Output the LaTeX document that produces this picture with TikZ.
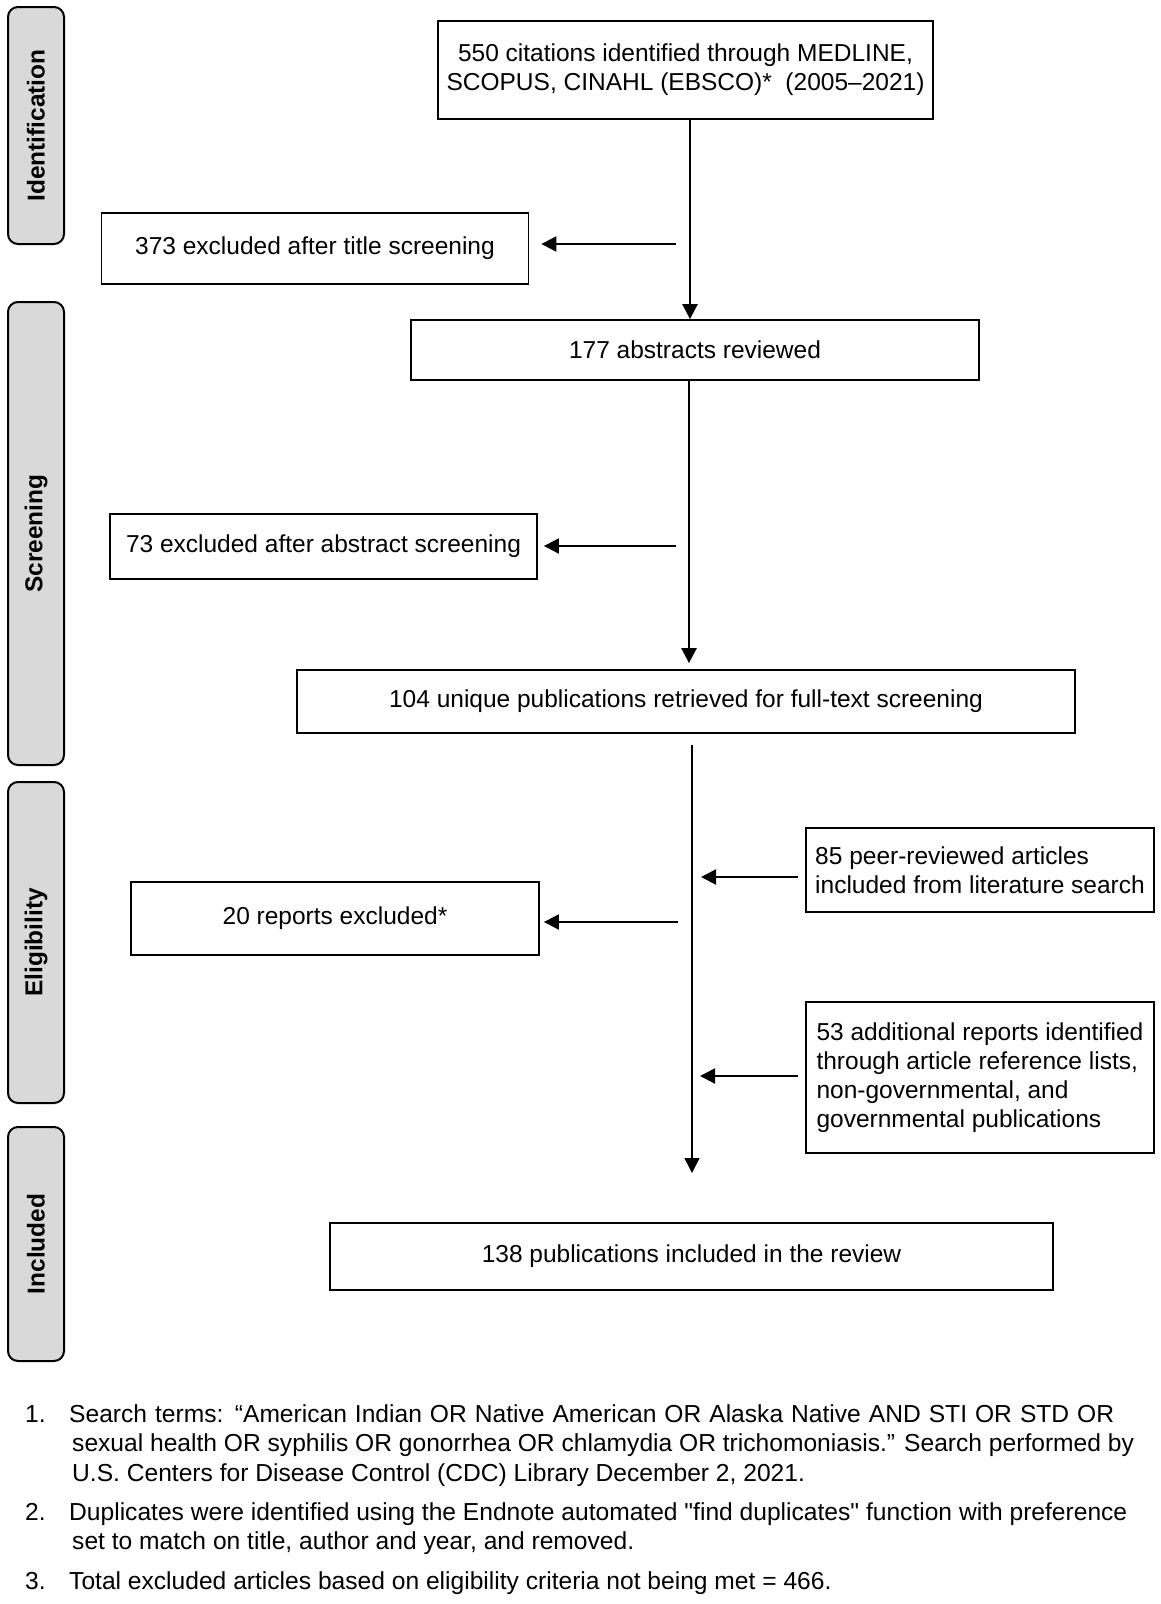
\documentclass[tikz,border=0pt]{standalone}
\usepackage{fontspec}
\setmainfont{Liberation Sans}[Ligatures=TeXOff]
\usetikzlibrary{arrows.meta}
\definecolor{sidegray}{HTML}{D9D9D9}
\begin{document}
\begin{tikzpicture}[x=1pt,y=-1pt,
  side/.style={draw=black, line width=2pt, fill=sidegray, rounded corners=10pt,
    minimum height=56pt, inner sep=0pt, rotate=90,
    font=\fontsize{24.4}{29}\selectfont\bfseries},
  box/.style={draw=black, line width=1.8pt, inner sep=0pt,
    font=\fontsize{24.5}{29}\selectfont, align=center},
  lbox/.style={draw=black, line width=1.8pt, inner sep=0pt,
    font=\fontsize{24.5}{29}\selectfont, align=left, minimum width=348pt},
  arr/.style={line width=2pt, -{Triangle[width=15pt,length=15pt]}},
  thinarr/.style={line width=1.6pt, -{Triangle[width=15pt,length=15pt]}},
  foot/.style={anchor=base west, inner sep=0pt, font=\fontsize{24.6}{29}\selectfont},
]
\useasboundingbox (0,0) rectangle (1161,1604);

% side bars
\node[side, minimum width=237pt] (ident) at (36,125.5) {Identification};
\node[side, minimum width=463pt] (screen) at (36,533.5) {Screening};
\node[side, minimum width=321pt] (elig) at (36,942.5) {Eligibility};
\node[side, minimum width=234pt] (incl) at (36,1244) {Included};

% main boxes
\node[box, minimum width=495pt, minimum height=98pt] (b1) at (685.5,70)
  {550 citations identified through MEDLINE,\\SCOPUS, CINAHL (EBSCO)*\ \ (2005–2021)};
\node[box, minimum width=427pt, minimum height=71pt] (b373) at (315,248.5)
  {373 excluded after title screening};
\node[box, minimum width=568pt, minimum height=60pt] (b177) at (695,350)
  {177 abstracts reviewed};
\node[box, minimum width=427pt, minimum height=65pt] (b73) at (323.5,546.5)
  {73 excluded after abstract screening};
\node[box, minimum width=778pt, minimum height=63pt] (b104) at (686,701.5)
  {104 unique publications retrieved for full-text screening};
\node[box, minimum width=408pt, minimum height=73pt] (b20) at (335,918.5)
  {20 reports excluded*};
\node[lbox, minimum height=84pt] (b85) at (980,870)
  {85 peer-reviewed articles\\included from literature search};
\node[lbox, minimum height=151pt] (b53) at (980,1077.5)
  {53 additional reports identified\\through article reference lists,\\non-governmental, and\\governmental publications};
\node[box, minimum width=723pt, minimum height=67pt] (b138) at (691.5,1256.5)
  {138 publications included in the review};

% spine coordinates
\coordinate (s1) at (690,0);
\coordinate (s2) at (689,0);
\coordinate (c1) at (676,244);
\coordinate (c2) at (676,546);
\coordinate (c3) at (678,922);
\coordinate (top3) at (692,745);
\coordinate (bot3) at (692,1173);
\coordinate (t85) at (701,877);
\coordinate (t53) at (700,1076);

% connectors
\draw[arr, line width=2.5pt] (b1.south -| s1) -- (b177.north -| s1);
\draw[arr, shorten >=12pt] (c1) -- (b373.east |- c1);
\draw[arr, line width=2.5pt, shorten >=6pt] (b177.south -| s2) -- (b104.north -| s2);
\draw[arr, shorten >=6pt] (c2) -- (b73.east |- c2);
\draw[thinarr] (top3) -- (bot3);
\draw[arr, shorten >=4pt] (c3) -- (b20.east |- c3);
\draw[arr, shorten <=7pt] (b85.west |- t85) -- (t85);
\draw[arr, shorten <=7pt] (b53.west |- t53) -- (t53);

% footnotes
\node[foot] (n1) at (25,1422) {1.};
\node[foot] (f1a) at (69,1422) {\makebox[1045pt][s]{Search terms: “American Indian OR Native American OR Alaska Native AND STI OR STD OR}};
\node[foot] (f1b) at (72,1451) {sexual health OR syphilis OR gonorrhea OR chlamydia OR trichomoniasis.” Search performed by};
\node[foot] (f1c) at (72,1481) {U.S. Centers for Disease Control (CDC) Library December 2, 2021.};
\node[foot] (n2) at (25,1520) {2.};
\node[foot] (f2a) at (69,1520) {Duplicates were identified using the Endnote automated "find duplicates" function with preference};
\node[foot] (f2b) at (72,1549) {set to match on title, author and year, and removed.};
\node[foot] (n3) at (25,1589) {3.};
\node[foot] (f3a) at (69,1589) {Total excluded articles based on eligibility criteria not being met = 466.};
\end{tikzpicture}
\end{document}
